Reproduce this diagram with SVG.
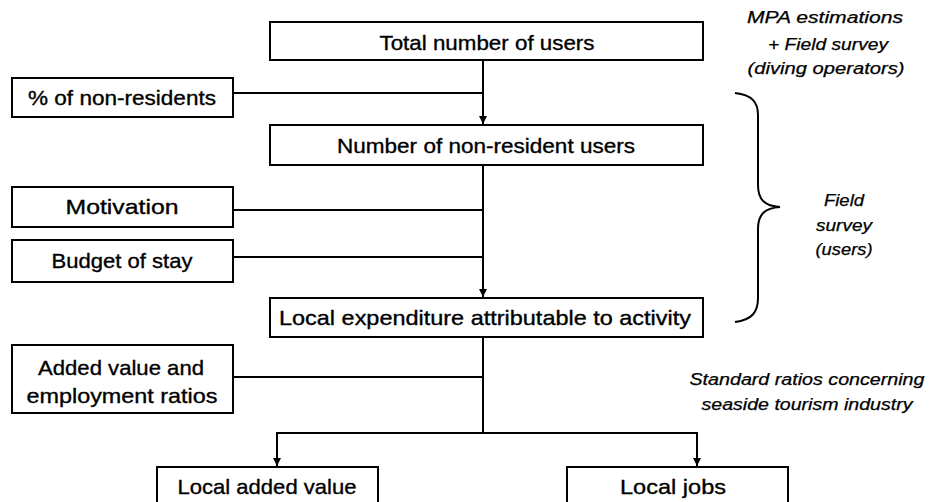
<svg xmlns="http://www.w3.org/2000/svg" width="929" height="502" viewBox="0 0 929 502">
<style>
.box{fill:#fff;stroke:#000;stroke-width:2}
.t{font-family:"Liberation Sans",Arial,sans-serif;font-size:21px;fill:#000;stroke:#000;stroke-width:0.35}
.i{font-family:"Liberation Sans",Arial,sans-serif;font-size:16px;font-style:italic;fill:#000;stroke:#000;stroke-width:0.25}
.c line,.c path{stroke:#000;stroke-width:2;fill:none}
</style>
<defs>
<marker id="ah" viewBox="0 0 10 10" refX="10" refY="5" markerWidth="9" markerHeight="8" markerUnits="userSpaceOnUse" orient="auto">
<path d="M0,0 L10,5 L0,10 Z" fill="#000"/>
</marker>
</defs>
<rect width="929" height="502" fill="#fff"/>
<g class="c" id="connectors">
<line x1="483" y1="60" x2="483" y2="124" marker-end="url(#ah)"/>
<line x1="233" y1="93" x2="483" y2="93"/>
<line x1="483" y1="165" x2="483" y2="297" marker-end="url(#ah)"/>
<line x1="233" y1="210" x2="483" y2="210"/>
<line x1="233" y1="257" x2="483" y2="257"/>
<line x1="483" y1="337" x2="483" y2="433"/>
<line x1="233" y1="377" x2="483" y2="377"/>
<line x1="277" y1="433" x2="697" y2="433"/>
<line x1="277" y1="432" x2="277" y2="466" marker-end="url(#ah)"/>
<line x1="697" y1="432" x2="697" y2="466" marker-end="url(#ah)"/>
<path id="brace" d="M735,93 C752,95 758,102 758,115 L758,185 C758,200 765,206 780,207 C765,208 758,214 758,229 L758,298 C758,312 752,320 735,322" stroke-width="1.8"/>
</g>
<g id="n-total"><rect class="box" x="270" y="22" width="433" height="38"/><text class="t" x="487" y="50" text-anchor="middle" textLength="215" lengthAdjust="spacingAndGlyphs">Total number of users</text></g>
<g id="n-pct"><rect class="box" x="12" y="78" width="221" height="39"/><text class="t" x="122" y="105" text-anchor="middle" textLength="188" lengthAdjust="spacingAndGlyphs">% of non-residents</text></g>
<g id="n-nonres"><rect class="box" x="270" y="125" width="433" height="40"/><text class="t" x="486" y="153" text-anchor="middle" textLength="298" lengthAdjust="spacingAndGlyphs">Number of non-resident users</text></g>
<g id="n-motiv"><rect class="box" x="12" y="187" width="221" height="40"/><text class="t" x="122" y="214" text-anchor="middle" textLength="113" lengthAdjust="spacingAndGlyphs">Motivation</text></g>
<g id="n-budget"><rect class="box" x="12" y="240" width="221" height="42"/><text class="t" x="122" y="268" text-anchor="middle" textLength="141" lengthAdjust="spacingAndGlyphs">Budget of stay</text></g>
<g id="n-local"><rect class="box" x="270" y="298" width="433" height="39"/><text class="t" x="485" y="325" text-anchor="middle" textLength="412" lengthAdjust="spacingAndGlyphs">Local expenditure attributable to activity</text></g>
<g id="n-ratios"><rect class="box" x="12" y="345" width="221" height="68"/><text class="t" x="121" y="375" text-anchor="middle" textLength="166" lengthAdjust="spacingAndGlyphs">Added value and</text><text class="t" x="122" y="403" text-anchor="middle" textLength="191" lengthAdjust="spacingAndGlyphs">employment ratios</text></g>
<g id="n-lav"><rect class="box" x="157" y="467" width="221" height="60"/><text class="t" x="267" y="494" text-anchor="middle" textLength="179" lengthAdjust="spacingAndGlyphs">Local added value</text></g>
<g id="n-jobs"><rect class="box" x="567" y="467" width="221" height="60"/><text class="t" x="673" y="494" text-anchor="middle" textLength="106" lengthAdjust="spacingAndGlyphs">Local jobs</text></g>
<g id="lbl-mpa">
<text class="i" x="825" y="23" text-anchor="middle" textLength="156" lengthAdjust="spacingAndGlyphs">MPA estimations</text>
<text class="i" x="828" y="50" text-anchor="middle" textLength="120" lengthAdjust="spacingAndGlyphs">+ Field survey</text>
<text class="i" x="826" y="74" text-anchor="middle" textLength="157" lengthAdjust="spacingAndGlyphs">(diving operators)</text>
</g>
<g id="lbl-field">
<text class="i" x="844" y="206" text-anchor="middle" textLength="40" lengthAdjust="spacingAndGlyphs">Field</text>
<text class="i" x="844" y="231" text-anchor="middle" textLength="56" lengthAdjust="spacingAndGlyphs">survey</text>
<text class="i" x="844" y="255" text-anchor="middle" textLength="57" lengthAdjust="spacingAndGlyphs">(users)</text>
</g>
<g id="lbl-std">
<text class="i" x="807" y="385" text-anchor="middle" textLength="235" lengthAdjust="spacingAndGlyphs">Standard ratios concerning</text>
<text class="i" x="807" y="410" text-anchor="middle" textLength="211" lengthAdjust="spacingAndGlyphs">seaside tourism industry</text>
</g>
</svg>
